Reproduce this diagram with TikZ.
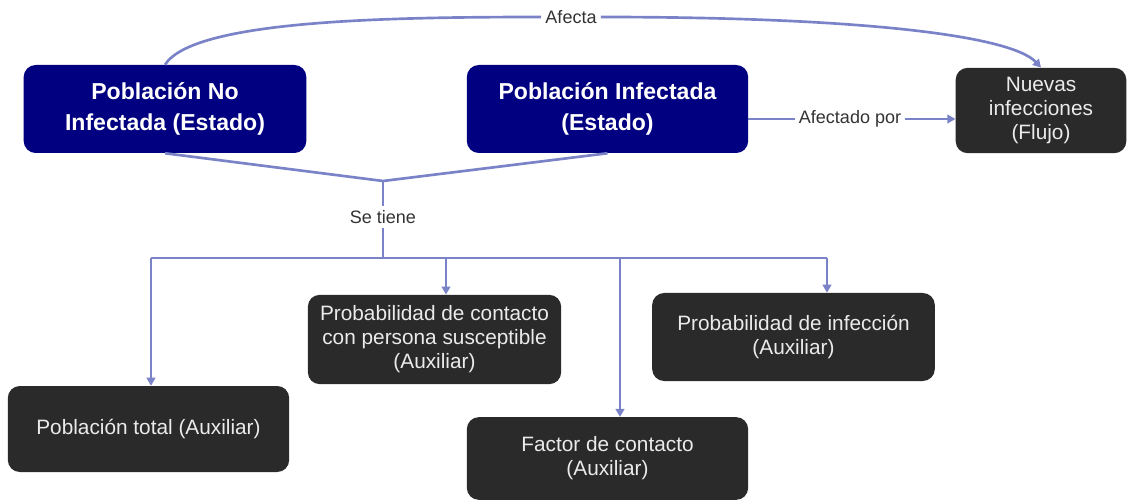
\documentclass[tikz,border=0pt]{standalone}
\usepackage{fontspec}
\setmainfont{Liberation Sans}
\usetikzlibrary{arrows.meta}
\definecolor{navybox}{HTML}{000080}
\definecolor{darkbox}{HTML}{2A2A2A}
\definecolor{linkc}{HTML}{7B83C8}
\definecolor{labelc}{HTML}{333333}
\tikzset{
  statebox/.style={draw=none, fill=navybox, rounded corners=9pt, text=white,
    font=\fontsize{17.3}{23}\selectfont\bfseries, align=center, inner sep=0pt},
  auxbox/.style={draw=none, fill=darkbox, rounded corners=9pt, text=white!92!black,
    font=\fontsize{15.6}{18}\selectfont, align=center, inner sep=0pt},
  lbl/.style={text=labelc, font=\fontsize{13.5}{15}\selectfont, inner sep=3pt, fill=white},
  link/.style={draw=linkc, line width=2pt},
  arr/.style={link, -{Triangle[length=6pt,width=6.5pt]}},
}
\begin{document}
\begin{tikzpicture}[x=0.75pt,y=-0.75pt]
\useasboundingbox (0,0) rectangle (1128,502);
% state nodes
\node[statebox, minimum width=212pt, minimum height=66pt] (n1) at (165,109) {Población No\\Infectada (Estado)};
\node[statebox, minimum width=211pt, minimum height=66pt] (n2) at (607.5,109) {Población Infectada\\(Estado)};
\node[auxbox, minimum width=128pt, minimum height=64pt] (n3) at (1041,110.5) {Nuevas\\infecciones\\(Flujo)};
% auxiliary nodes
\node[auxbox, minimum width=211pt, minimum height=64.5pt] (ptotal) at (148.5,429) {Población total (Auxiliar)};
\node[auxbox, minimum width=190pt, minimum height=67pt] (pcont) at (434.5,339.5) {Probabilidad de contacto\\con persona susceptible\\(Auxiliar)};
\node[auxbox, minimum width=211pt, minimum height=62pt] (factor) at (607.5,458.5) {Factor de contacto\\(Auxiliar)};
\node[auxbox, minimum width=212pt, minimum height=66pt] (pinf) at (793.5,337) {Probabilidad de infección\\(Auxiliar)};
% labels
\node[lbl] (afecta) at (571,17) {Afecta};
\node[lbl] (afpor) at (850,119) {Afectado por};
\node[lbl] (setiene) at (383,217) {Se tiene};
% coordinates
\coordinate (join) at (383,181);
\coordinate (bus) at (383,258);
\coordinate (b1) at (151,258);
\coordinate (b2) at (446,258);
\coordinate (b3) at (620,258);
\coordinate (b4) at (827,258);
% connectors
\draw[link] (n1.north) .. controls +(28,-44) and +(-160,0) .. (afecta.west);
\draw[arr] (afecta.east) .. controls +(260,0) and +(-30,-32) .. (n3.north);
\draw[link] (afpor.west -| n2.east) -- (afpor.west);
\draw[arr] (afpor.east) -- (afpor.east -| n3.west);
\draw[link] (n1.south) -- (join) -- (n2.south);
\draw[link] (join) -- (setiene.north);
\draw[link] (setiene.south) -- (bus);
\draw[link] (b1) -- (b4);
\draw[arr] (b1) -- (b1 |- ptotal.north);
\draw[arr] (b2) -- (b2 |- pcont.north);
\draw[arr] (b3) -- (b3 |- factor.north);
\draw[arr] (b4) -- (b4 |- pinf.north);
\end{tikzpicture}
\end{document}
